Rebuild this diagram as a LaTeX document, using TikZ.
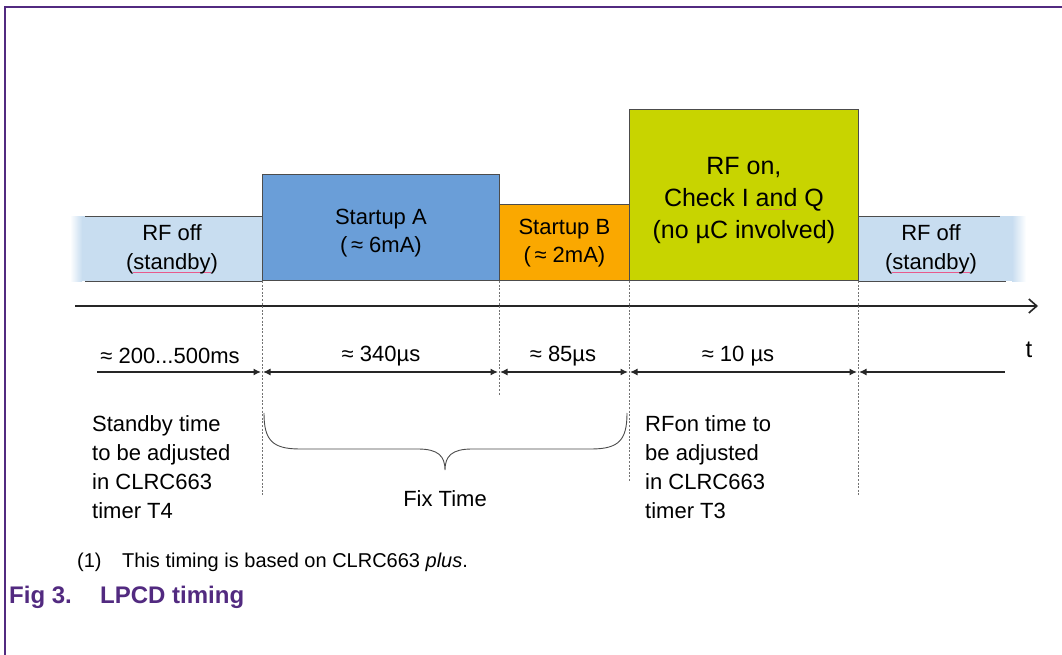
\documentclass[tikz,border=0pt]{standalone}
\usepackage{fontspec}
\setmainfont{Liberation Sans}
\usetikzlibrary{arrows.meta}
\definecolor{nxppurple}{RGB}{82,42,128}
\definecolor{standbyblue}{RGB}{200,221,240}
\definecolor{startA}{RGB}{106,158,216}
\definecolor{startB}{RGB}{250,168,0}
\definecolor{rfon}{RGB}{200,212,0}
\definecolor{squig}{RGB}{232,90,140}
\definecolor{squigo}{RGB}{225,160,60}
% word with a spell-check style underline
\newcommand\spellmark[2][squig]{\setbox0\hbox{#2}\rlap{\textcolor{#1}{\rule[-3.5pt]{\wd0}{0.9pt}}}#2}
\begin{document}
\begin{tikzpicture}[x=1pt,y=-1pt,
  lbl/.style={font=\fontsize{22}{29}\selectfont, inner sep=0pt},
  phase/.style={draw=black!70, line width=0.8pt, inner sep=0pt, anchor=south west},
  phasetext/.style={align=center, inner sep=0pt, font=\fontsize{22}{28}\selectfont},
  bandline/.style={draw=black!70, line width=0.8pt},
  guide/.style={draw=black!55, line width=0.8pt, dash pattern=on 2pt off 1.6pt},
  dimtip/.tip={Latex[length=7.5pt,width=7pt]},
  dim/.style={line width=1.3pt, draw=black!85},
]
\useasboundingbox (0,0) rectangle (1062,655);
\fill[white] (0,0) rectangle (1062,655);

% page frame
\draw[nxppurple, line width=1.5pt] (5,655) -- (5,7) -- (1062,7);

% standby bands (left and right)
\fill[standbyblue] (82,216) rectangle (262,281);
\shade[left color=white, right color=standbyblue] (70,216) rectangle (82,281);
\draw[bandline] (85,216) -- (262,216) (85,281) -- (262,281);
\fill[standbyblue] (858,216) rectangle (1012,281);
\shade[left color=standbyblue, right color=white] (1012,216) rectangle (1026,281);
\draw[bandline] (858,216) -- (1000,216) (858,281) -- (1006,281);
\node[lbl, align=center] (offL) at (172,249) {RF off\\(\spellmark{standby})};
\node[lbl, align=center] (offR) at (931,249) {RF off\\(\spellmark{standby})};

% phase boxes
\node[phase, fill=startA, minimum width=237pt, minimum height=106pt] (sa) at (262,281) {};
\node[phase, fill=startB, minimum width=130pt, minimum height=76pt] (sb) at (499,281) {};
\node[phase, fill=rfon, minimum width=229pt, minimum height=171pt] (on) at (629,281) {};
\node[phasetext] (saT) at ([yshift=-5pt]sa.center) {Startup A\\(\,≈ 6mA)};
\node[phasetext] (sbT) at (sb.center) {Startup B\\(\,≈ 2mA)};
\node[phasetext, font=\fontsize{25}{32}\selectfont] (onT) at ([yshift=-5pt]on.center)
  {RF on,\\Check I \spellmark[squigo]{and} Q\\(no µC involved)};

% time axis
\coordinate (axL) at (75,306);
\coordinate (axR) at (1038,306);
\draw[line width=1.6pt, black!85, -{Straight Barb[length=8pt,width=14pt,line width=1.6pt]}] (axL) -- (axR);
\node[font=\fontsize{24}{24}\selectfont, inner sep=0pt] (t) at (1029,350) {t};

% phase boundaries
\draw[guide] (sa.south west) -- ++(0,214);
\draw[guide] (sb.south west) -- ++(0,115);
\draw[guide] (on.south west) -- ++(0,200);
\draw[guide] (on.south east) -- ++(0,214);

% duration arrows
\coordinate (d0) at (97,372);
\coordinate (d1a) at (261,372);
\coordinate (d1b) at (263,372);
\coordinate (d2a) at (498,372);
\coordinate (d2b) at (500,372);
\coordinate (d3a) at (628,372);
\coordinate (d3b) at (630,372);
\coordinate (d4a) at (857,372);
\coordinate (d4b) at (859,372);
\coordinate (d5) at (1005,372);
\draw[dim, -dimtip] (d0) -- (d1a);
\draw[dim, dimtip-dimtip] (d1b) -- (d2a);
\draw[dim, dimtip-dimtip] (d2b) -- (d3a);
\draw[dim, dimtip-dimtip] (d3b) -- (d4a);
\draw[dim, dimtip-] (d4b) -- (d5);

\node[lbl] (tA) at (170,356) {≈ 200...500ms};
\node[lbl] (tB) at (381,356) {≈ 340µs};
\node[lbl] (tC) at (563,356) {≈ 85µs};
\node[lbl] (tD) at (738,356) {≈ 10 µs};

% fixed part of the cycle
\draw[black!70, line width=0.9pt]
  (264,413) .. controls (264,440) and (272,449) .. (300,449) -- (418,449)
  .. controls (438,449) and (445,456) .. (445,470)
  .. controls (445,456) and (452,449) .. (472,449) -- (591,449)
  .. controls (619,449) and (627,440) .. (627,413);
\node[lbl] (fix) at (445,499) {Fix Time};

\node[lbl, align=left, anchor=north west] (sbnote) at (92,415)
  {Standby time\\to be adjusted\\in CLRC663\\timer T4};
\node[lbl, align=left, anchor=north west] (onnote) at (645,415)
  {RFon time to\\be adjusted\\in CLRC663\\timer T3};

% footnote and caption
\node[font=\fontsize{20}{24}\selectfont, inner sep=0pt, anchor=west] (fn1) at (77,562) {(1)};
\node[font=\fontsize{20}{24}\selectfont, inner sep=0pt, anchor=west] (fn) at (122,562)
  {This timing is based on CLRC663 \textit{plus}.};
\node[font=\bfseries\fontsize{24}{28}\selectfont, text=nxppurple, inner sep=0pt, anchor=west] (fig) at (9,597) {Fig 3.};
\node[font=\bfseries\fontsize{24}{28}\selectfont, text=nxppurple, inner sep=0pt, anchor=west] (cap) at (100,597) {LPCD timing};
\end{tikzpicture}
\end{document}
